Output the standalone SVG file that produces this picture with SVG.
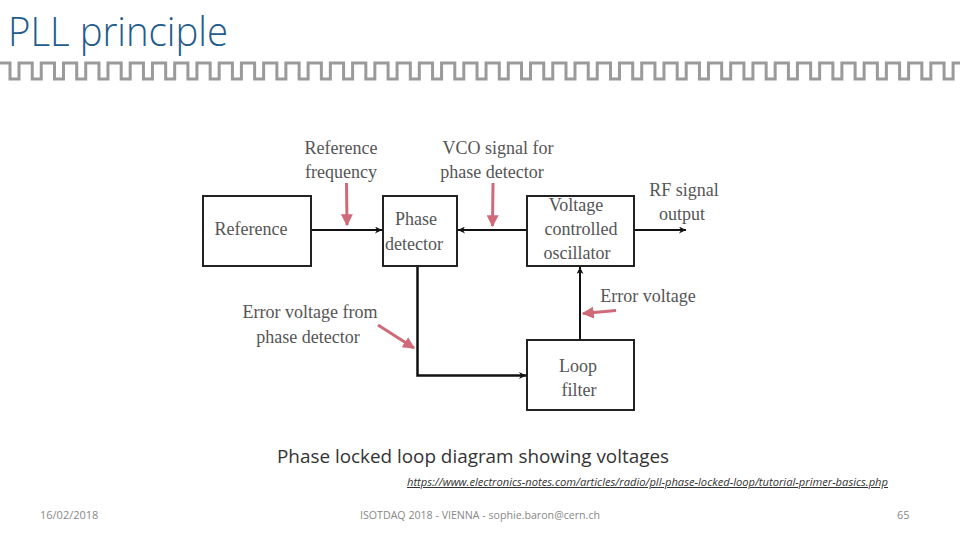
<svg xmlns="http://www.w3.org/2000/svg" width="960" height="540" viewBox="0 0 960 540">
<defs>
<style>
.box{fill:#fff;stroke:#222;stroke-width:2}
.lbl{font-family:"Liberation Serif","DejaVu Serif",serif;font-size:18px;fill:#555;text-anchor:middle}
.wire{fill:none;stroke:#111;stroke-width:2}
.red{fill:none;stroke:#d06a78;stroke-width:3}
.foot{font-family:"Open Sans","Liberation Sans",sans-serif;font-size:11px;fill:#888}
</style>
<marker id="ah" viewBox="0 0 10 10" refX="10" refY="5" markerWidth="7" markerHeight="7" markerUnits="userSpaceOnUse" orient="auto"><path d="M0,0 L10,5 L0,10 L3,5 Z" fill="#111"/></marker>
<marker id="rh" viewBox="0 0 10 10" refX="9" refY="5" markerWidth="4" markerHeight="4" orient="auto"><path d="M0,0 L10,5 L0,10 Z" fill="#d06a78"/></marker>
</defs>
<rect width="960" height="540" fill="#fff"/>
<text x="8" y="46" font-family="'Open Sans','Liberation Sans',sans-serif" font-weight="300" font-size="40" fill="#1f5c8e" textLength="220" lengthAdjust="spacingAndGlyphs">PLL principle</text>
<path d="M0 63 h10 v16 h9 v-16 h13.24 v16 h9 v-16 h13.24 v16 h9 v-16 h13.24 v16 h9 v-16 h13.24 v16 h9 v-16 h13.24 v16 h9 v-16 h13.24 v16 h9 v-16 h13.24 v16 h9 v-16 h13.24 v16 h9 v-16 h13.24 v16 h9 v-16 h13.24 v16 h9 v-16 h13.24 v16 h9 v-16 h13.24 v16 h9 v-16 h13.24 v16 h9 v-16 h13.24 v16 h9 v-16 h13.24 v16 h9 v-16 h13.24 v16 h9 v-16 h13.24 v16 h9 v-16 h13.24 v16 h9 v-16 h13.24 v16 h9 v-16 h13.24 v16 h9 v-16 h13.24 v16 h9 v-16 h13.24 v16 h9 v-16 h13.24 v16 h9 v-16 h13.24 v16 h9 v-16 h13.24 v16 h9 v-16 h13.24 v16 h9 v-16 h13.24 v16 h9 v-16 h13.24 v16 h9 v-16 h13.24 v16 h9 v-16 h13.24 v16 h9 v-16 h13.24 v16 h9 v-16 h13.24 v16 h9 v-16 h13.24 v16 h9 v-16 h13.24 v16 h9 v-16 h13.24 v16 h9 v-16 h13.24 v16 h9 v-16 h13.24 v16 h9 v-16 h13.24 v16 h9 v-16 h13.24 v16 h9 v-16 h13.24 v16 h9 v-16 h13.24 v16 h9 v-16 h13.24 v16 h9 v-16 h13.24 v16 h9 v-16 h13.24 v16 h9 v-16 h13.24 v16 h9 v-16 h13.24 M930 63 H944.08 V79 H953.08 V63 H960" fill="none" stroke="#9a9a9a" stroke-width="3"/>

<g id="connectors">
<line class="wire" x1="311" y1="230" x2="382" y2="230" marker-end="url(#ah)"/>
<line class="wire" x1="527" y1="230" x2="458" y2="230" marker-end="url(#ah)"/>
<line class="wire" x1="634" y1="230" x2="686" y2="230" marker-end="url(#ah)"/>
<path class="wire" d="M417.5 267 V375.5 H526" marker-end="url(#ah)" style="stroke-width:2.5"/>
<line class="wire" x1="580" y1="339" x2="580" y2="267" marker-end="url(#ah)"/>
<line class="red" x1="346.5" y1="183" x2="347" y2="225" marker-end="url(#rh)"/>
<line class="red" x1="493" y1="183" x2="492.5" y2="226" marker-end="url(#rh)"/>
<line class="red" x1="378" y1="325" x2="414" y2="348" marker-end="url(#rh)"/>
<line class="red" x1="616" y1="310.5" x2="583" y2="313.5" marker-end="url(#rh)"/>
</g>

<g id="ref"><rect class="box" x="203" y="196" width="108" height="70"/><text class="lbl" x="251" y="235">Reference</text></g>
<g id="pd"><rect class="box" x="383" y="196" width="74" height="70"/><text class="lbl" x="416" y="225">Phase</text><text class="lbl" x="414" y="250">detector</text></g>
<g id="vco"><rect class="box" x="527" y="196" width="107" height="70"/><text class="lbl" x="576" y="211">Voltage</text><text class="lbl" x="581" y="235">controlled</text><text class="lbl" x="577" y="259">oscillator</text></g>
<g id="lf"><rect class="box" x="527" y="340" width="107" height="70"/><text class="lbl" x="578" y="372">Loop</text><text class="lbl" x="579" y="396">filter</text></g>

<g id="labels">
<text class="lbl" x="341" y="154">Reference</text><text class="lbl" x="341" y="178">frequency</text>
<text class="lbl" x="498" y="154">VCO signal for</text><text class="lbl" x="492" y="178">phase detector</text>
<text class="lbl" x="684" y="196">RF signal</text><text class="lbl" x="682" y="220">output</text>
<text class="lbl" x="310" y="318">Error voltage from</text><text class="lbl" x="308" y="343">phase detector</text>
<text class="lbl" x="648" y="302">Error voltage</text>
</g>

<text x="277" y="463" font-family="'Open Sans','Liberation Sans',sans-serif" font-size="19" fill="#333" textLength="392" lengthAdjust="spacingAndGlyphs">Phase locked loop diagram showing voltages</text>
<text x="407" y="486" font-family="'Open Sans','Liberation Sans',sans-serif" font-style="italic" font-size="10" fill="#333" text-decoration="underline" textLength="481" lengthAdjust="spacingAndGlyphs">https://www.electronics-notes.com/articles/radio/pll-phase-locked-loop/tutorial-primer-basics.php</text>
<text class="foot" x="40" y="519">16/02/2018</text>
<text class="foot" x="360" y="519" textLength="240" lengthAdjust="spacingAndGlyphs">ISOTDAQ 2018 - VIENNA - sophie.baron@cern.ch</text>
<text class="foot" x="897" y="519">65</text>
</svg>
